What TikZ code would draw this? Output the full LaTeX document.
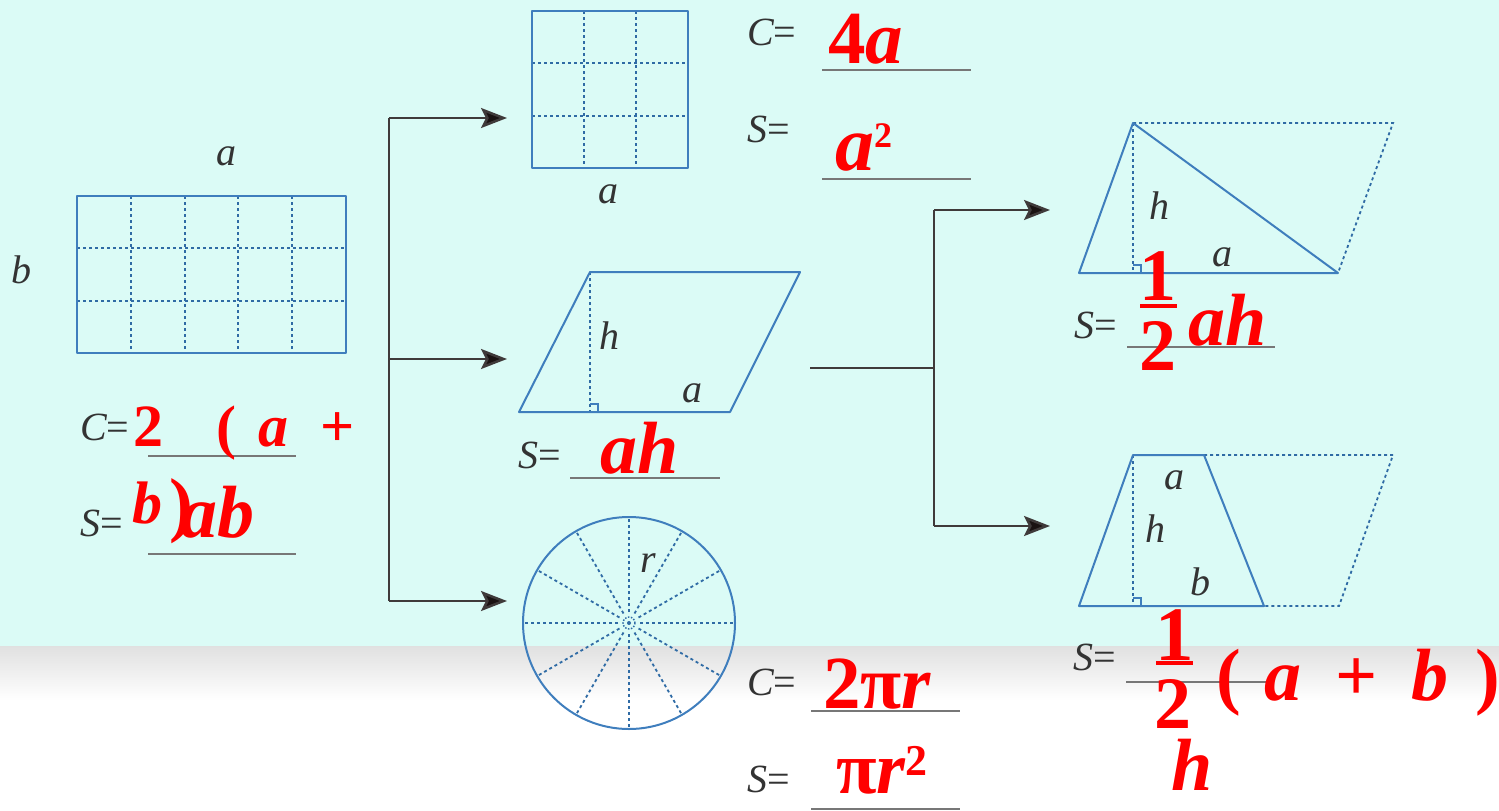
\documentclass[tikz,border=0pt]{standalone}
\usepackage{fontspec}
\setmainfont{Liberation Serif}
\usetikzlibrary{arrows.meta}
\definecolor{bgc}{HTML}{DBFBF6}
\definecolor{shp}{HTML}{3F7EBD}
\definecolor{dotc}{HTML}{2F6BA5}
\definecolor{lab}{HTML}{333333}
\definecolor{ans}{HTML}{FF0000}
\definecolor{uline}{HTML}{777777}
\definecolor{conn}{HTML}{3F3A3A}
\definecolor{tipc}{HTML}{1A1212}
\begin{document}
\begin{tikzpicture}[x=1pt,y=-1pt,
  shapeline/.style={draw=shp,line width=2pt,line join=round},
  gridline/.style={draw=dotc,line width=1.8pt,dash pattern=on 3pt off 3pt},
  anglemark/.style={draw=shp,line width=1.3pt},
  lbl/.style={text=lab,font=\fontsize{40}{40}\selectfont\itshape,inner sep=0pt,anchor=base},
  eqs/.style={text=lab,font=\fontsize{40}{40}\selectfont,inner sep=0pt,anchor=base west},
  answer/.style={text=ans,font=\fontsize{74}{74}\selectfont\bfseries,inner sep=0pt,anchor=base west},
  smallans/.style={text=ans,font=\fontsize{60}{60}\selectfont\bfseries,inner sep=0pt,anchor=base west},
  blank/.style={draw=uline,line width=2.5pt},
  fracbar/.style={draw=ans,line width=4pt},
  connline/.style={draw=conn,line width=2.5pt},
  arrowline/.style={draw=conn,line width=2.5pt,-{Stealth[length=26pt,width=20pt,inset=5pt,fill=tipc]}}
]
\useasboundingbox (0,0) rectangle (1499,811);
% background
\fill[bgc] (0,0) rectangle (1499,646);
\shade[top color=black!12,bottom color=white] (0,646) rectangle (1499,700);

% ---------- rectangle ----------
\foreach \xx in {131,185,238,292} \draw[gridline] (\xx,196) -- (\xx,353);
\foreach \yy in {248,301} \draw[gridline] (77,\yy) -- (346,\yy);
\draw[shapeline] (77,196) rectangle (346,353);
\node[lbl] (ra) at (226,165) {a};
\node[lbl] (rb) at (22,283) {b};
\node[eqs] (rC) at (80,440) {{\itshape C}=};
\node[eqs] (rS) at (80,536) {{\itshape S}=};
\draw[blank] (148,456) -- (296,456);
\draw[blank] (148,554) -- (296,554);
\node[smallans] (rc1) at (133,446) {2};
\node[smallans] (rc2) at (216,447) {(};
\node[smallans] (rc3) at (258,446) {\itshape a};
\node[smallans] (rc4) at (320,446) {+};
\node[smallans] (rs1) at (132,523) {\itshape b};
\node[answer,font=\fontsize{72}{72}\selectfont\bfseries] (rs2) at (169,528) {)};
\node[answer] (rs3) at (180,537) {\itshape ab};

% ---------- connectors 1 ----------
\coordinate (j1t) at (389,118);
\coordinate (j1m) at (389,359);
\coordinate (j1b) at (389,601);
\coordinate (sqIn) at (507,118);
\coordinate (parIn) at (507,359);
\coordinate (cirIn) at (507,601);
\draw[connline] (j1t) -- (j1b);
\draw[arrowline] (j1t) -- (sqIn);
\draw[arrowline] (j1m) -- (parIn);
\draw[arrowline] (j1b) -- (cirIn);

% ---------- square ----------
\foreach \xx in {584,636} \draw[gridline] (\xx,11) -- (\xx,168);
\foreach \yy in {63,116} \draw[gridline] (532,\yy) -- (688,\yy);
\draw[shapeline] (532,11) rectangle (688,168);
\node[lbl] (sa) at (608,203) {a};
\node[eqs] (sC) at (747,45) {{\itshape C}=};
\node[eqs] (sS) at (747,142) {{\itshape S}=};
\draw[blank] (822,70) -- (971,70);
\draw[blank] (822,179) -- (971,179);
\node[answer,font=\fontsize{75}{75}\selectfont\bfseries] (sc) at (828,63) {4\itshape a};
\node[answer,font=\fontsize{78}{78}\selectfont\bfseries] (ss) at (835,170) {\itshape a\upshape\raisebox{23pt}{\fontsize{36}{36}\selectfont 2}};

% ---------- parallelogram ----------
\draw[gridline] (590,272) -- (590,412);
\draw[anglemark] (590,404) -- (598,404) -- (598,412);
\draw[shapeline] (519,412) -- (730,412) -- (800,272) -- (590,272) -- cycle;
\node[lbl] (ph) at (609,349) {h};
\node[lbl] (pa) at (692,402) {a};
\node[eqs] (pS) at (518,468) {{\itshape S}=};
\draw[blank] (570,478) -- (720,478);
\node[answer] (ps) at (600,473) {\itshape ah};

% ---------- circle ----------
\coordinate (cc) at (629,623);
\foreach \ang in {0,30,...,330}
  \draw[gridline] ([shift={(\ang:11)}]cc) -- ([shift={(\ang:106)}]cc);
\draw[gridline,line width=1.4pt,dash pattern=on 1.5pt off 1.5pt] (cc) circle[radius=6pt];
\fill[dotc] (cc) circle[radius=2pt];
\draw[shapeline] (cc) circle[radius=106pt];
\node[lbl] (cr) at (648,572) {r};
\node[eqs] (cC) at (747,695) {{\itshape C}=};
\node[eqs] (cS) at (747,792) {{\itshape S}=};
\draw[blank] (811,711) -- (960,711);
\draw[blank] (811,809) -- (960,809);
\node[answer,font=\fontsize{75}{75}\selectfont\bfseries] (cc1) at (823,708) {2π\itshape r};
\node[answer] (cs1) at (836,793) {π\itshape r\upshape\raisebox{18pt}{\fontsize{44}{44}\selectfont 2}};

% ---------- connectors 2 ----------
\coordinate (parOut) at (810,368);
\coordinate (j2) at (934,368);
\coordinate (j2t) at (934,210);
\coordinate (j2b) at (934,526);
\coordinate (triIn) at (1050,210);
\coordinate (trapIn) at (1050,526);
\draw[connline] (parOut) -- (j2);
\draw[connline] (j2t) -- (j2b);
\draw[arrowline] (j2t) -- (triIn);
\draw[arrowline] (j2b) -- (trapIn);

% ---------- triangle ----------
\draw[gridline] (1133,123) -- (1393,123) -- (1338,273);
\draw[gridline] (1133,123) -- (1133,273);
\draw[anglemark] (1133,265) -- (1141,265) -- (1141,273);
\draw[shapeline] (1079,273) -- (1133,123) -- (1338,273) -- cycle;
\node[lbl] (th) at (1159,219) {h};
\node[lbl] (ta) at (1222,266) {a};
\node[eqs] (tS) at (1074,338) {{\itshape S}=};
\draw[blank] (1127,347) -- (1275,347);
\node[answer,anchor=base] (tf1) at (1158,300) {1};
\draw[fracbar] (1140,306) -- (1177,306);
\node[answer,anchor=base] (tf2) at (1158,370) {2};
\node[answer] (tah) at (1188,345) {\itshape ah};

% ---------- trapezoid ----------
\draw[gridline] (1204,455) -- (1393,455) -- (1339,606) -- (1264,606);
\draw[gridline] (1133,455) -- (1133,606);
\draw[anglemark] (1133,598) -- (1141,598) -- (1141,606);
\draw[shapeline] (1079,606) -- (1133,455) -- (1204,455) -- (1264,606) -- cycle;
\node[lbl] (za) at (1174,489) {a};
\node[lbl] (zh) at (1155,542) {h};
\node[lbl] (zb) at (1200,595) {b};
\node[eqs] (zS) at (1073,670) {{\itshape S}=};
\draw[blank] (1126,682) -- (1268,682);
\node[answer,anchor=base,font=\fontsize{77}{77}\selectfont\bfseries] (zf1) at (1175,660) {1};
\draw[fracbar] (1156,663) -- (1193,663);
\node[answer,anchor=base] (zf2) at (1173,728) {2};
\node[answer] (zp1) at (1216,700) {(};
\node[answer] (zpa) at (1264,700) {\itshape a};
\node[answer] (zpp) at (1335,700) {+};
\node[answer] (zpb) at (1411,700) {\itshape b};
\node[answer] (zp2) at (1475,700) {)};
\node[answer] (zph) at (1171,790) {\itshape h};
\end{tikzpicture}
\end{document}
